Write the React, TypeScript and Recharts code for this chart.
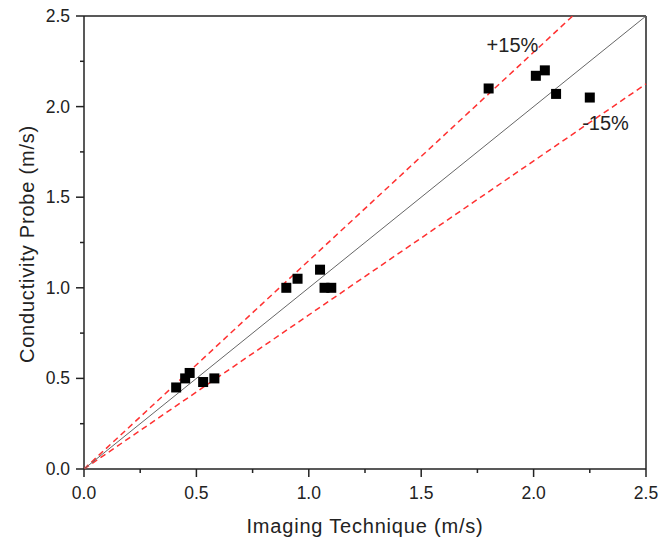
import React from 'react';
import { ScatterChart, Scatter, XAxis, YAxis, ReferenceLine, ReferenceDot } from 'recharts';

// Imaging technique (x) vs conductivity probe (y), m/s
const imagingValues = [0.41, 0.45, 0.47, 0.53, 0.58, 0.9, 0.95, 1.05, 1.07, 1.1, 1.8, 2.01, 2.05, 2.1, 2.25];
const probeValues = [0.45, 0.5, 0.53, 0.48, 0.5, 1.0, 1.05, 1.1, 1.0, 1.0, 2.1, 2.17, 2.2, 2.07, 2.05];

const axisMax = 2.5;
const deviation = 0.15;
const majorTicks = [0, 0.5, 1, 1.5, 2, 2.5];
const minorTicks = [0.25, 0.75, 1.25, 1.75, 2.25];
const allTicks = [...majorTicks, ...minorTicks].sort((a, b) => a - b);

const points = imagingValues.map((x, i) => ({ x, y: probeValues[i] }));
const parityLine = [{ x: 0, y: 0 }, { x: axisMax, y: axisMax }];
const upperLine = [{ x: 0, y: 0 }, { x: axisMax / (1 + deviation), y: axisMax }];
const lowerLine = [{ x: 0, y: 0 }, { x: axisMax, y: axisMax * (1 - deviation) }];

const FONT = '"Liberation Sans", Arial, sans-serif';
const INK = '#222';

const isMajor = (v: number) => majorTicks.includes(v);

const XTick = ({ x, y, payload }: any) => {
  const major = isMajor(payload.value);
  return (
    <g>
      <line x1={x} x2={x} y1={y} y2={y + (major ? 8 : 4)} stroke={INK} strokeWidth={1.5} />
      {major && (
        <text x={x} y={y + 30} textAnchor="middle" fontSize={17.5} fill={INK} fontFamily={FONT}>
          {payload.value.toFixed(1)}
        </text>
      )}
    </g>
  );
};

const YTick = ({ x, y, payload }: any) => {
  const major = isMajor(payload.value);
  return (
    <g>
      <line x1={x - (major ? 8 : 4)} x2={x} y1={y} y2={y} stroke={INK} strokeWidth={1.5} />
      {major && (
        <text x={x - 14} y={y + 6} textAnchor="end" fontSize={17.5} fill={INK} fontFamily={FONT}>
          {payload.value.toFixed(1)}
        </text>
      )}
    </g>
  );
};

const Square = ({ cx, cy }: any) => <rect x={cx - 5} y={cy - 5} width={10} height={10} fill="#000" />;
const NoMark = () => <g />;

const bandLabel = (text: string) => ({ viewBox }: any) => (
  <text
    x={viewBox.x + viewBox.width / 2}
    y={viewBox.y + viewBox.height / 2 + 7}
    textAnchor="middle"
    fontSize={20}
    fill={INK}
    fontFamily={FONT}
  >
    {text}
  </text>
);

const dashed = { stroke: '#ff3030', strokeWidth: 1.5, strokeDasharray: '6 4' };

const App: React.FC = () => {
  return (
    <div style={{ position: 'absolute', left: 0, top: 0, fontFamily: FONT }}>
      <ScatterChart width={659} height={543} margin={{ top: 16, right: 13, left: 0, bottom: 0 }}>
        <XAxis
          type="number"
          dataKey="x"
          domain={[0, axisMax]}
          ticks={allTicks}
          interval={0}
          tick={XTick}
          tickSize={0}
          tickMargin={0}
          tickLine={false}
          height={74}
          axisLine={{ stroke: INK, strokeWidth: 1.5 }}
          label={{
            content: () => (
              <text x={365} y={533} textAnchor="middle" fontSize={20} letterSpacing={0.8} fill={INK} fontFamily={FONT}>
                Imaging Technique (m/s)
              </text>
            ),
          }}
        />
        <YAxis
          type="number"
          dataKey="y"
          domain={[0, axisMax]}
          ticks={allTicks}
          interval={0}
          tick={YTick}
          tickSize={0}
          tickMargin={0}
          tickLine={false}
          width={84}
          axisLine={{ stroke: INK, strokeWidth: 1.5 }}
          label={{
            content: () => (
              <text
                transform="translate(34,244) rotate(-90)"
                textAnchor="middle"
                fontSize={20}
                letterSpacing={0.8}
                fill={INK}
                fontFamily={FONT}
              >
                Conductivity Probe (m/s)
              </text>
            ),
          }}
        />
        <ReferenceLine y={axisMax} stroke={INK} strokeWidth={1.5} />
        <ReferenceLine x={axisMax} stroke={INK} strokeWidth={1.5} />
        <Scatter data={upperLine} line={dashed} shape={NoMark} isAnimationActive={false} />
        <Scatter data={lowerLine} line={dashed} shape={NoMark} isAnimationActive={false} />
        <Scatter data={parityLine} line={{ stroke: '#666', strokeWidth: 1 }} shape={NoMark} isAnimationActive={false} />
        <Scatter data={points} shape={Square} isAnimationActive={false} />
        <ReferenceDot x={1.906} y={2.34} r={0} label={{ content: bandLabel('+15%') }} />
        <ReferenceDot x={2.32} y={1.907} r={0} label={{ content: bandLabel('-15%') }} />
      </ScatterChart>
    </div>
  );
};

export default App;
